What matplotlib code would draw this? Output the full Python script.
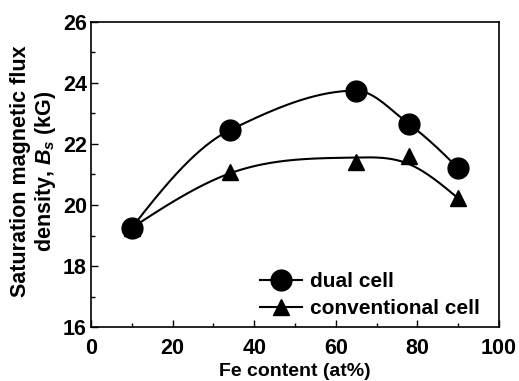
import numpy as np
import matplotlib.pyplot as plt
from matplotlib.ticker import MultipleLocator

plt.rcParams['font.family'] = ['Liberation Sans', 'DejaVu Sans']
plt.rcParams['font.weight'] = 'bold'
plt.rcParams['mathtext.fontset'] = 'custom'
plt.rcParams['mathtext.it'] = 'Liberation Sans:italic:bold'
plt.rcParams['mathtext.rm'] = 'Liberation Sans:bold'

# data
fe_dual = [10, 34, 65, 78, 90]
bs_dual = [19.25, 22.45, 23.75, 22.65, 21.2]
fe_conv = [10, 34, 65, 78, 90]
bs_conv = [19.25, 21.08, 21.4, 21.62, 20.22]


def pchip(x, y, xs):
    # monotone cubic (Fritsch-Carlson) through the points
    x = np.asarray(x, float)
    y = np.asarray(y, float)
    h = np.diff(x)
    d = np.diff(y) / h
    m = np.zeros_like(y)
    for k in range(1, len(x) - 1):
        if d[k - 1] * d[k] > 0:
            w1 = 2 * h[k] + h[k - 1]
            w2 = h[k] + 2 * h[k - 1]
            m[k] = (w1 + w2) / (w1 / d[k - 1] + w2 / d[k])

    def end(h0, h1, d0, d1):
        mm = ((2 * h0 + h1) * d0 - h0 * d1) / (h0 + h1)
        if np.sign(mm) != np.sign(d0):
            mm = 0.0
        elif np.sign(d0) != np.sign(d1) and abs(mm) > abs(3 * d0):
            mm = 3 * d0
        return mm

    m[0] = end(h[0], h[1], d[0], d[1])
    m[-1] = end(h[-1], h[-2], d[-1], d[-2])
    k = np.clip(np.searchsorted(x, xs) - 1, 0, len(x) - 2)
    t = (xs - x[k]) / h[k]
    h00 = 2 * t**3 - 3 * t**2 + 1
    h10 = t**3 - 2 * t**2 + t
    h01 = -2 * t**3 + 3 * t**2
    h11 = t**3 - t**2
    return h00 * y[k] + h10 * h[k] * m[k] + h01 * y[k + 1] + h11 * h[k] * m[k + 1]


def smooth_curve(x, y, lam, step=0.5):
    # penalised least squares on a fine grid (discrete smoothing spline)
    g = np.arange(x[0], x[-1] + step / 2, step)
    w = np.zeros(len(g))
    t = np.zeros(len(g))
    for xi, yi in zip(x, y):
        k = int(round((xi - x[0]) / step))
        w[k] = 1.0
        t[k] = yi
    w[0] = w[-1] = 100.0
    d2 = np.diff(np.eye(len(g)), 2, axis=0)
    f = np.linalg.solve(np.diag(w) + lam * d2.T @ d2, w * t)
    return g, f


fig = plt.figure(figsize=(5.19, 3.81), dpi=100)
ax = fig.add_axes([0.1753, 0.1417, 0.786, 0.8006])

xs = np.linspace(fe_dual[0], fe_dual[-1], 300)
ax.plot(xs, pchip(fe_dual, bs_dual, xs), color='black', lw=1.5)
gx, gy = smooth_curve(fe_conv, bs_conv, 1500)
ax.plot(gx, gy, color='black', lw=1.5)

ax.plot(fe_conv, bs_conv, ls='none', marker='^', ms=12, color='black')
ax.plot(fe_dual, bs_dual, ls='none', marker='o', ms=15, color='black')

ax.plot([], [], color='black', lw=1.5, marker='o', ms=15, label='dual cell')
ax.plot([], [], color='black', lw=1.5, marker='^', ms=12, label='conventional cell')
ax.legend(loc='upper left', bbox_to_anchor=(0.414, 0.18), frameon=False, fontsize=15,
          borderpad=0, borderaxespad=0, handlelength=2.0, handletextpad=0.4,
          labelspacing=0.4)

ax.set_xlim(0, 100)
ax.set_ylim(16, 26)
ax.xaxis.set_major_locator(MultipleLocator(20))
ax.xaxis.set_minor_locator(MultipleLocator(10))
ax.yaxis.set_major_locator(MultipleLocator(2))
ax.yaxis.set_minor_locator(MultipleLocator(1))
ax.tick_params(which='both', direction='in', labelsize=15.5)
ax.tick_params(which='major', length=5, width=1)
ax.tick_params(which='minor', length=3, width=1)
ax.tick_params(axis='x', pad=8)
ax.tick_params(axis='y', pad=3)
for s in ax.spines.values():
    s.set_linewidth(1.2)

ax.set_xlabel('Fe content (at%)', fontsize=14, fontweight='bold', labelpad=3)
ax.set_ylabel('Saturation magnetic flux\ndensity, $B_s$ (kG)', fontsize=15.5,
              fontweight='bold', linespacing=1.1)
ax.yaxis.set_label_coords(-0.081, 0.51)

fig.savefig('out.png', dpi=100)
